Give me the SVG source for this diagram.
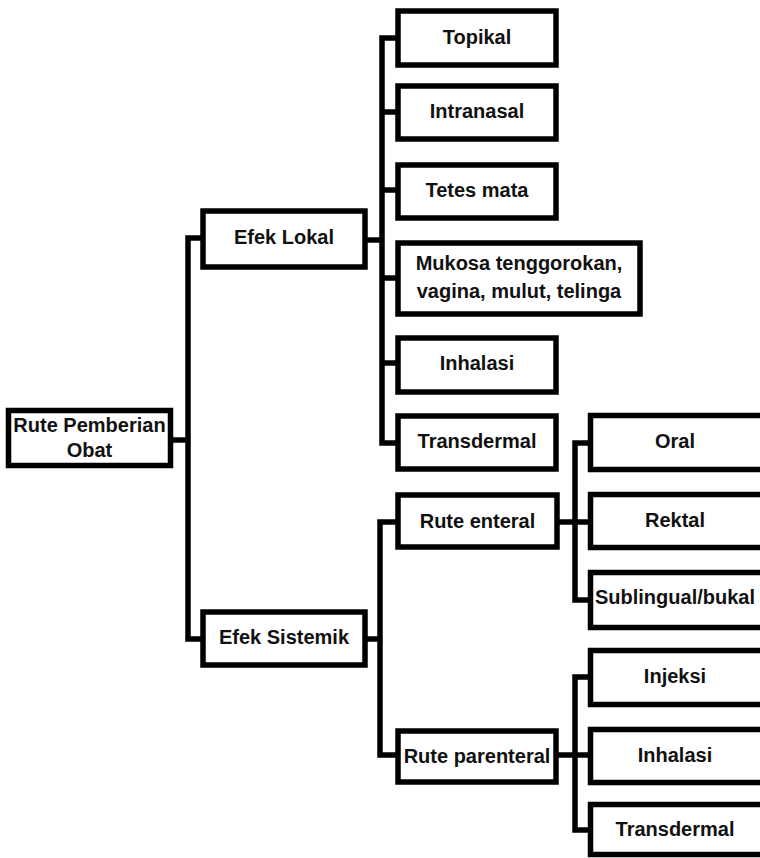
<svg xmlns="http://www.w3.org/2000/svg" width="760" height="858" viewBox="0 0 760 858">
  <style>
    .box { fill: #ffffff; stroke: #000000; stroke-width: 5.5; }
    .wire { fill: none; stroke: #000000; stroke-width: 5.5; stroke-linejoin: miter; stroke-linecap: butt; }
    .lbl { font-family: "Liberation Sans", Arial, sans-serif; font-weight: bold; font-size: 20px; fill: #111111; text-anchor: middle; }
  </style>
  <rect width="760" height="858" fill="#ffffff"/>

  <!-- connectors -->
  <g id="connectors">
    <path class="wire" d="M170,440 H188"/>
    <path class="wire" d="M203,238 H188 V639 H203"/>
    <path class="wire" d="M365,240 H382"/>
    <path class="wire" d="M398,38 H382 V443 H398"/>
    <path class="wire" d="M382,112 H398 M382,190 H398 M382,278 H398 M382,363 H398"/>
    <path class="wire" d="M365,639 H380"/>
    <path class="wire" d="M398,522 H380 V755 H398"/>
    <path class="wire" d="M557,522 H590"/>
    <path class="wire" d="M590,443 H575 V600 H590"/>
    <path class="wire" d="M556,755 H590"/>
    <path class="wire" d="M590,677 H575 V830 H590"/>
  </g>

  <!-- root -->
  <g id="rute-pemberian-obat">
    <rect class="box" x="8.5" y="410.5" width="162" height="55"/>
    <text class="lbl" x="89.5" y="432">Rute Pemberian</text>
    <text class="lbl" x="89.5" y="457">Obat</text>
  </g>

  <!-- level 1 -->
  <g id="efek-lokal">
    <rect class="box" x="203" y="211" width="162" height="56"/>
    <text class="lbl" x="284" y="244">Efek Lokal</text>
  </g>
  <g id="efek-sistemik">
    <rect class="box" x="203" y="612" width="162" height="53"/>
    <text class="lbl" x="284" y="644">Efek Sistemik</text>
  </g>

  <!-- local routes -->
  <g id="topikal">
    <rect class="box" x="398" y="11" width="158" height="54"/>
    <text class="lbl" x="477" y="44">Topikal</text>
  </g>
  <g id="intranasal">
    <rect class="box" x="398" y="86" width="158" height="53"/>
    <text class="lbl" x="477" y="118">Intranasal</text>
  </g>
  <g id="tetes-mata">
    <rect class="box" x="398" y="165" width="158" height="53"/>
    <text class="lbl" x="477" y="197">Tetes mata</text>
  </g>
  <g id="mukosa">
    <rect class="box" x="398" y="243" width="242" height="71"/>
    <text class="lbl" x="519" y="270">Mukosa tenggorokan,</text>
    <text class="lbl" x="519" y="298">vagina, mulut, telinga</text>
  </g>
  <g id="inhalasi-lokal">
    <rect class="box" x="398" y="338" width="158" height="54"/>
    <text class="lbl" x="477" y="370">Inhalasi</text>
  </g>
  <g id="transdermal-lokal">
    <rect class="box" x="398" y="416" width="158" height="53"/>
    <text class="lbl" x="477" y="448">Transdermal</text>
  </g>

  <!-- systemic routes -->
  <g id="rute-enteral">
    <rect class="box" x="398" y="495" width="159" height="52"/>
    <text class="lbl" x="477.5" y="528">Rute enteral</text>
  </g>
  <g id="rute-parenteral">
    <rect class="box" x="398" y="731" width="158" height="51"/>
    <text class="lbl" x="477" y="763">Rute parenteral</text>
  </g>

  <!-- enteral -->
  <g id="oral">
    <rect class="box" x="590.5" y="415.5" width="180" height="54"/>
    <text class="lbl" x="675" y="448">Oral</text>
  </g>
  <g id="rektal">
    <rect class="box" x="590.5" y="494.5" width="180" height="53"/>
    <text class="lbl" x="675" y="527">Rektal</text>
  </g>
  <g id="sublingual">
    <rect class="box" x="590.5" y="572.5" width="180" height="55"/>
    <text class="lbl" x="675" y="604">Sublingual/bukal</text>
  </g>

  <!-- parenteral -->
  <g id="injeksi">
    <rect class="box" x="590.5" y="650.5" width="180" height="54"/>
    <text class="lbl" x="675" y="683">Injeksi</text>
  </g>
  <g id="inhalasi-sistemik">
    <rect class="box" x="590.5" y="729.5" width="180" height="53"/>
    <text class="lbl" x="675" y="762">Inhalasi</text>
  </g>
  <g id="transdermal-sistemik">
    <rect class="box" x="590.5" y="804.5" width="180" height="50"/>
    <text class="lbl" x="675" y="836">Transdermal</text>
  </g>
</svg>
